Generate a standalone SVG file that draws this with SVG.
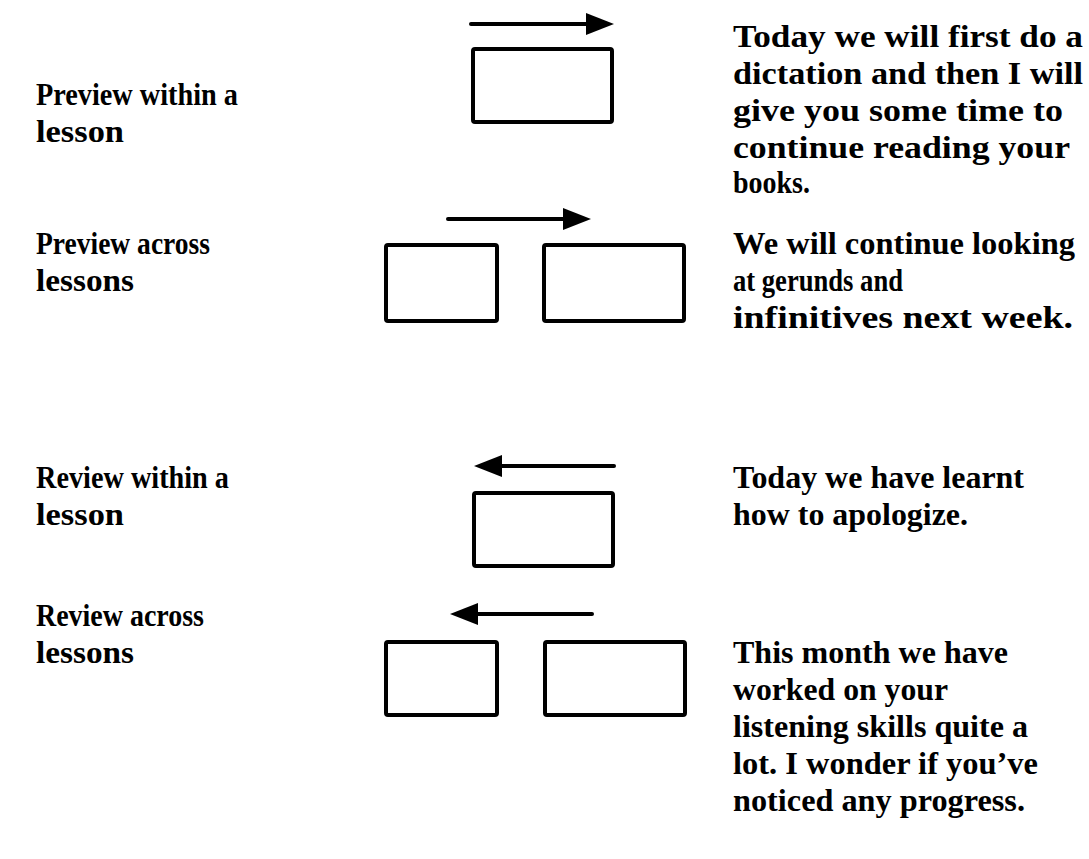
<svg xmlns="http://www.w3.org/2000/svg" width="1089" height="859" viewBox="0 0 1089 859">
<style>
  .bg { fill: #ffffff; }
  .box { fill: none; stroke: #000; stroke-width: 4; }
  .arr { stroke: #000; stroke-width: 4; stroke-linecap: round; fill: none; marker-end: url(#head); }
  .t { font-family: "Liberation Serif", "Times New Roman", serif; font-weight: bold; font-size: 31px; fill: #000; }
</style>
<defs>
  <marker id="head" markerUnits="userSpaceOnUse" viewBox="0 0 28 22" markerWidth="28" markerHeight="22" refX="0" refY="11" orient="auto">
    <path d="M0,0 L28,11 L0,22 Z" fill="#000"/>
  </marker>
</defs>
<rect class="bg" x="0" y="0" width="1089" height="859"/>

<g id="connectors">
  <line class="arr" x1="471" y1="24" x2="586" y2="24"/>
  <line class="arr" x1="448" y1="219" x2="563" y2="219"/>
  <line class="arr" x1="614" y1="466" x2="502" y2="466"/>
  <line class="arr" x1="592" y1="614" x2="478" y2="614"/>
</g>

<g id="row1-label"><text class="t" x="36" y="105" textLength="202" lengthAdjust="spacingAndGlyphs">Preview within a</text><text class="t" x="36" y="142" textLength="88" lengthAdjust="spacingAndGlyphs">lesson</text></g>
<g id="row1-box"><rect class="box" x="473" y="49" width="139" height="73" rx="2"/></g>
<g id="row1-text">
  <text class="t" x="733" y="47" textLength="350" lengthAdjust="spacingAndGlyphs">Today we will first do a</text>
  <text class="t" x="733" y="84" textLength="350" lengthAdjust="spacingAndGlyphs">dictation and then I will</text>
  <text class="t" x="733" y="121" textLength="330" lengthAdjust="spacingAndGlyphs">give you some time to</text>
  <text class="t" x="733" y="158" textLength="337" lengthAdjust="spacingAndGlyphs">continue reading your</text>
  <text class="t" x="733" y="193" textLength="77" lengthAdjust="spacingAndGlyphs">books.</text>
</g>

<g id="row2-label"><text class="t" x="36" y="254" textLength="174" lengthAdjust="spacingAndGlyphs">Preview across</text><text class="t" x="36" y="291" textLength="98" lengthAdjust="spacingAndGlyphs">lessons</text></g>
<g id="row2-box-a"><rect class="box" x="386" y="245" width="111" height="76" rx="2"/></g>
<g id="row2-box-b"><rect class="box" x="544" y="245" width="140" height="76" rx="2"/></g>
<g id="row2-text">
  <text class="t" x="733" y="254" textLength="342" lengthAdjust="spacingAndGlyphs">We will continue looking</text>
  <text class="t" x="733" y="291" textLength="170" lengthAdjust="spacingAndGlyphs">at gerunds and</text>
  <text class="t" x="733" y="328" textLength="340" lengthAdjust="spacingAndGlyphs">infinitives next week.</text>
</g>

<g id="row3-label"><text class="t" x="36" y="488" textLength="193" lengthAdjust="spacingAndGlyphs">Review within a</text><text class="t" x="36" y="525" textLength="88" lengthAdjust="spacingAndGlyphs">lesson</text></g>
<g id="row3-box"><rect class="box" x="474" y="493" width="139" height="73" rx="2"/></g>
<g id="row3-text">
  <text class="t" x="733" y="488" textLength="291" lengthAdjust="spacingAndGlyphs">Today we have learnt</text>
  <text class="t" x="733" y="525" textLength="235" lengthAdjust="spacingAndGlyphs">how to apologize.</text>
</g>

<g id="row4-label"><text class="t" x="36" y="626" textLength="168" lengthAdjust="spacingAndGlyphs">Review across</text><text class="t" x="36" y="663" textLength="98" lengthAdjust="spacingAndGlyphs">lessons</text></g>
<g id="row4-box-a"><rect class="box" x="386" y="642" width="111" height="73" rx="2"/></g>
<g id="row4-box-b"><rect class="box" x="545" y="642" width="140" height="73" rx="2"/></g>
<g id="row4-text">
  <text class="t" x="733" y="663" textLength="275" lengthAdjust="spacingAndGlyphs">This month we have</text>
  <text class="t" x="733" y="700" textLength="215" lengthAdjust="spacingAndGlyphs">worked on your</text>
  <text class="t" x="733" y="737" textLength="295" lengthAdjust="spacingAndGlyphs">listening skills quite a</text>
  <text class="t" x="733" y="774" textLength="305" lengthAdjust="spacingAndGlyphs">lot. I wonder if you’ve</text>
  <text class="t" x="733" y="811" textLength="292" lengthAdjust="spacingAndGlyphs">noticed any progress.</text>
</g>
</svg>
